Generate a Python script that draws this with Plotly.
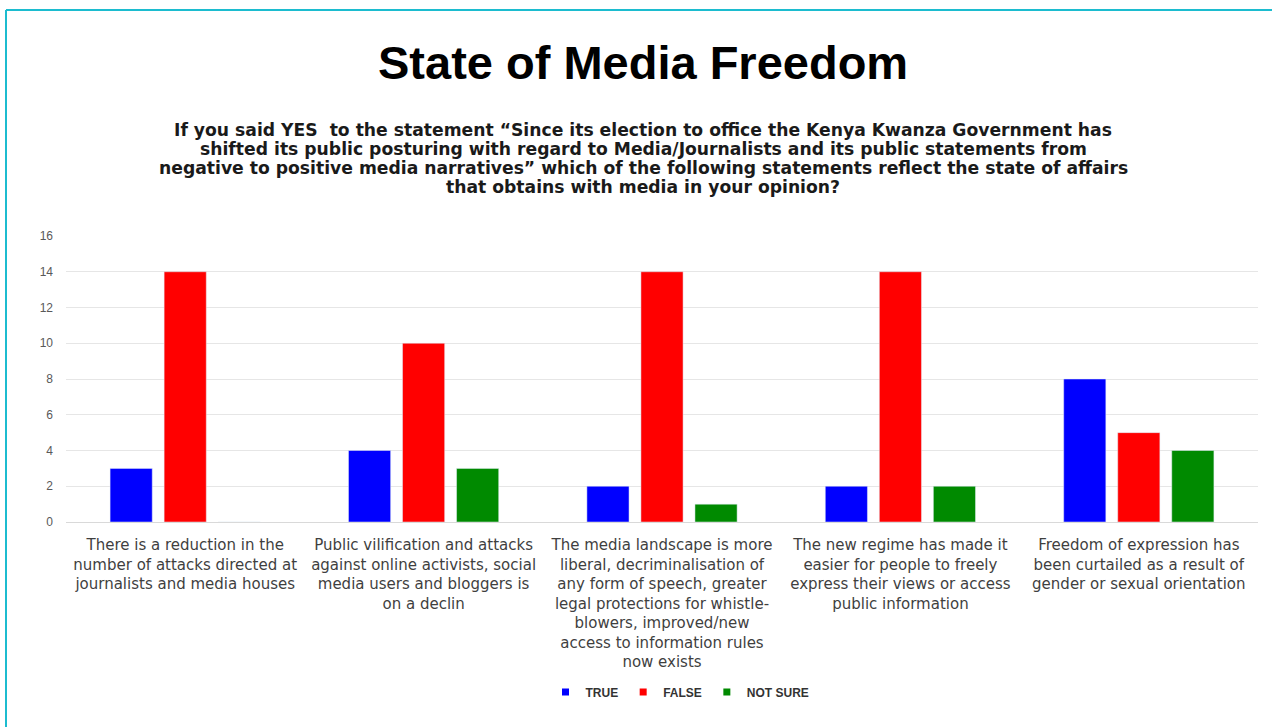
import plotly.graph_objects as go

categories = [
    "There is a reduction in the<br>number of attacks directed at<br>journalists and media houses",
    "Public vilification and attacks<br>against online activists, social<br>media users and bloggers is<br>on a declin",
    "The media landscape is more<br>liberal, decriminalisation of<br>any form of speech, greater<br>legal protections for whistle-<br>blowers, improved/new<br>access to information rules<br>now exists",
    "The new regime has made it<br>easier for people to freely<br>express their views or access<br>public information",
    "Freedom of expression has<br>been curtailed as a result of<br>gender or sexual orientation",
]
series_names = ["TRUE", "FALSE", "NOT SURE"]
true_vals = [3, 4, 2, 2, 8]
false_vals = [14, 10, 14, 14, 5]
notsure_vals = [0, 3, 1, 2, 4]
y_ticks = [0, 2, 4, 6, 8, 10, 12, 14, 16]
colors = ["#0000FF", "#FF0000", "#008A00"]

title_text = "State of Media Freedom"
subtitle_lines = [
    "If you said YES  to the statement “Since its election to office the Kenya Kwanza Government has",
    "shifted its public posturing with regard to Media/Journalists and its public statements from",
    "negative to positive media narratives” which of the following statements reflect the state of affairs",
    "that obtains with media in your opinion?",
]

W, H = 1272, 727
ML, MR, MT, MB = 66, 14, 236, 205
PH = H - MT - MB
PW = W - ML - MR

def py(ypx):
    return (H - MB - ypx) / PH

def px(xpx):
    return (xpx - ML) / PW

fig = go.Figure()
for name, vals, col in zip(series_names, [true_vals, false_vals, notsure_vals], colors):
    fig.add_trace(go.Bar(name=name, x=categories, y=vals, marker_color=col, showlegend=False))
# legend entries with small square markers
for name, col in zip(series_names, colors):
    fig.add_trace(go.Scatter(name=name, x=[None], y=[None], mode="markers",
                             marker=dict(symbol="square", size=7, color=col), showlegend=True))

fig.update_layout(
    width=W, height=H,
    margin=dict(l=ML, r=MR, t=MT, b=MB, pad=0),
    paper_bgcolor="white", plot_bgcolor="white",
    barmode="group", bargap=0.32, bargroupgap=0.22,
    font=dict(family="Liberation Sans, Arial, sans-serif", color="#404040"),
    showlegend=True,
    legend=dict(orientation="h", x=px(680), xanchor="center", y=py(692), yanchor="middle",
                font=dict(size=12, color="#333333", family="Liberation Sans, Arial, sans-serif",
                          weight="bold"),
                traceorder="normal", itemwidth=30),
    xaxis=dict(tickfont=dict(size=15, color="#3f3f3f", family="DejaVu Sans, sans-serif"),
               showgrid=False, showline=True, linecolor="#d9d9d9", linewidth=1, ticks="",
               ticklabelstandoff=9),
    yaxis=dict(range=[0, 16], tickvals=y_ticks, tickfont=dict(size=12, color="#595959"),
               showgrid=True, gridcolor="#e6e6e6", gridwidth=1, zeroline=False,
               ticks="", ticklabelstandoff=12),
)

fig.add_annotation(text="<b>" + title_text + "</b>", xref="paper", yref="paper",
                   x=px(643), y=py(62), xanchor="center", yanchor="middle", showarrow=False,
                   font=dict(size=47, color="#000000", family="Liberation Sans, Arial, sans-serif"))

for i, line in enumerate(subtitle_lines):
    fig.add_annotation(text="<b>" + line + "</b>", xref="paper", yref="paper",
                       x=px(643), y=py(130 + i * 19), xanchor="center", yanchor="middle",
                       showarrow=False,
                       font=dict(size=17.2, color="#1a1a1a", family="DejaVu Sans, sans-serif"))

# border lines (cyan frame top and left)
fig.add_shape(type="line", xref="paper", yref="paper", x0=px(6), x1=px(W + 5), y0=py(10), y1=py(10),
              line=dict(color="#1CBCCF", width=2))
fig.add_shape(type="line", xref="paper", yref="paper", x0=px(6), x1=px(6), y0=py(10), y1=py(H + 5),
              line=dict(color="#1CBCCF", width=2))

fig.write_html("out.html")
